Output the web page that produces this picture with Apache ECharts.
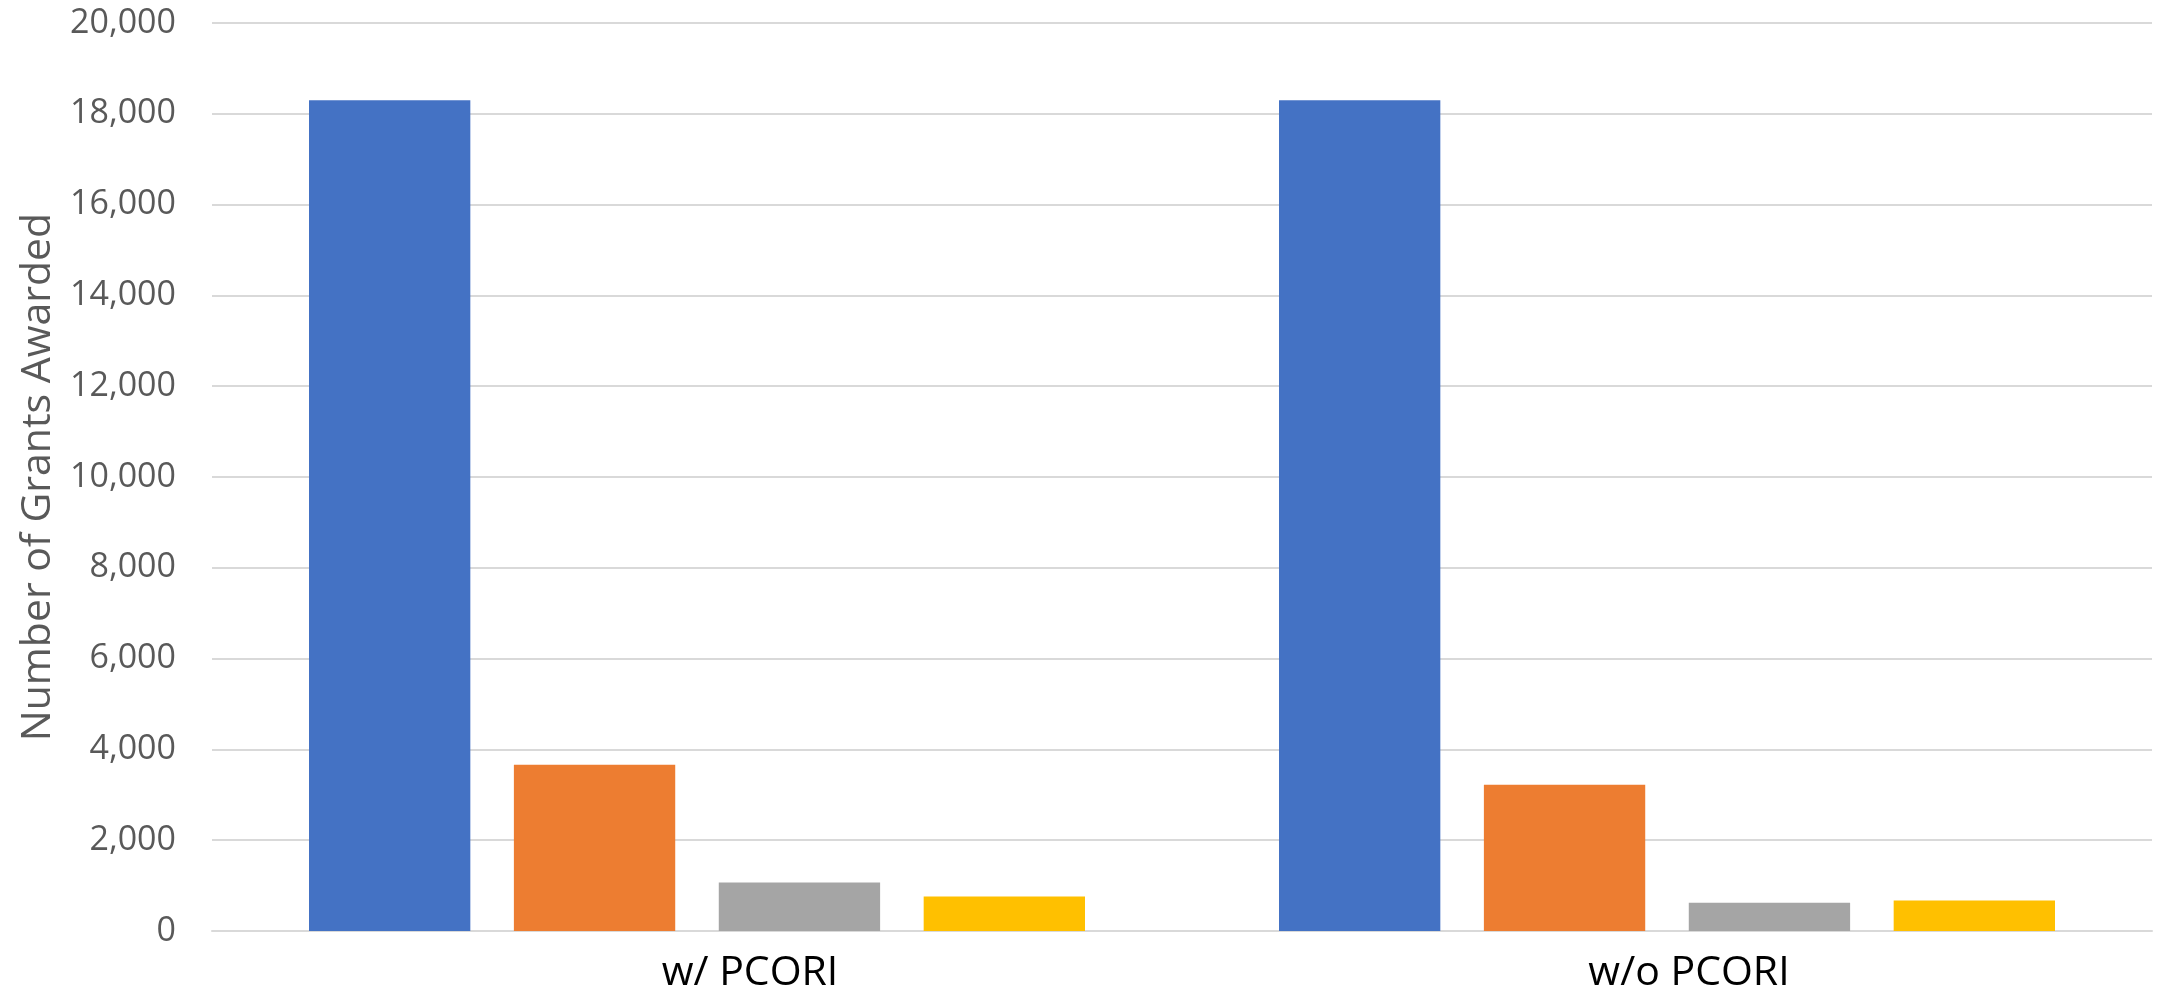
<!DOCTYPE html>
<html>
<head>
<meta charset="utf-8">
<script src="https://cdn.jsdelivr.net/npm/echarts@6/dist/echarts.min.js"></script>
<style>
html,body{margin:0;padding:0;background:#fff;}
#chart{width:2165px;height:997px;}
</style>
</head>
<body>
<div id="chart"></div>
<script>
var categories = ['w/ PCORI', 'w/o PCORI'];
var seriesNames = ['Series 1', 'Series 2', 'Series 3', 'Series 4'];
var series1 = [18300, 18300];
var series2 = [3660, 3220];
var series3 = [1070, 620];
var series4 = [760, 670];
var yTicks = { min: 0, max: 20000, interval: 2000 };
var yTitle = 'Number of Grants Awarded';

var colors = ['#4472C4', '#ED7D31', '#A5A5A5', '#FFC000'];
var values = [series1, series2, series3, series4];
var labelShift = [106, 44];

var chart = echarts.init(document.getElementById('chart'));
chart.setOption({
  animation: false,
  backgroundColor: '#ffffff',
  color: colors,
  grid: { left: 212, right: 13, top: 23, bottom: 66, containLabel: false },
  xAxis: {
    type: 'category',
    data: categories.map(function (c, i) {
      return { value: c, textStyle: { padding: [0, 0, 0, labelShift[i]] } };
    }),
    axisLine: { show: true, lineStyle: { color: '#D9D9D9', width: 2 } },
    axisTick: { show: false },
    axisLabel: {
      color: '#000000',
      fontFamily: 'Open Sans',
      fontSize: 41,
      margin: 22
    },
    splitLine: { show: false }
  },
  yAxis: {
    type: 'value',
    min: yTicks.min,
    max: yTicks.max,
    interval: yTicks.interval,
    name: yTitle,
    nameLocation: 'middle',
    nameRotate: 90,
    nameGap: 152,
    nameTextStyle: { color: '#595959', fontFamily: 'Open Sans', fontSize: 41 },
    axisLine: { show: false },
    axisTick: { show: false },
    axisLabel: {
      color: '#595959',
      fontFamily: 'Open Sans',
      fontSize: 34,
      margin: 36,
      formatter: function (v) { return v.toLocaleString('en-US'); }
    },
    splitLine: { lineStyle: { color: '#D9D9D9', width: 2 } }
  },
  series: values.map(function (v, i) {
    return {
      name: seriesNames[i],
      type: 'bar',
      data: v,
      barGap: '27%',
      barCategoryGap: '20%',
      itemStyle: { color: colors[i] }
    };
  })
});
</script>
</body>
</html>
